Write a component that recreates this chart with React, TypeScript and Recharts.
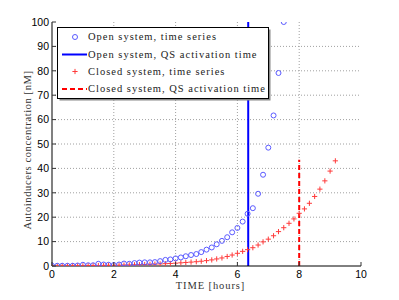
import React from 'react';
import {
  ComposedChart,
  Scatter,
  XAxis,
  YAxis,
  ReferenceLine,
  Label,
} from 'recharts';

// sample times [hours]
const timeHours = [
  0, 0.17, 0.33, 0.5, 0.67, 0.83, 1, 1.17, 1.33, 1.5, 1.67, 1.83, 2, 2.17, 2.33, 2.5,
  2.67, 2.83, 3, 3.17, 3.33, 3.5, 3.67, 3.83, 4, 4.17, 4.33, 4.5, 4.67, 4.83, 5, 5.17,
  5.33, 5.5, 5.67, 5.83, 6, 6.17, 6.33, 6.5, 6.67, 6.83, 7, 7.17, 7.33, 7.5, 7.67, 7.83,
  8, 8.17, 8.33, 8.5, 8.67, 8.83, 9, 9.17,
];

// open system autoinducer concentration [nM]
const openSeries = [
  0.1, 0.1, 0.1, 0.1, 0.1, 0.2, 0.5, 0.3, 0.3, 0.9, 0.6, 0.5, 0.4, 0.6, 1.0, 0.9,
  1.2, 1.4, 1.5, 1.5, 1.6, 2.0, 2.5, 2.7, 3.1, 3.5, 4.0, 4.5, 4.9, 5.7, 6.7, 7.6,
  8.9, 10.3, 11.8, 13.8, 15.6, 18.2, 21.4, 23.7, 29.6, 37.4, 48.5, 61.7, 79.1, 100,
];

// closed system autoinducer concentration [nM]
const closedSeries = [
  0.0, 0.0, 0.05, 0.05, 0.1, 0.1, 0.1, 0.15, 0.2, 0.2, 0.25, 0.3, 0.3, 0.35, 0.4, 0.45,
  0.5, 0.55, 0.6, 0.7, 0.75, 0.85, 0.95, 1.05, 1.15, 1.3, 1.45, 1.6, 1.75, 1.95, 2.2, 2.5,
  2.9, 3.3, 3.9, 4.5, 5.2, 6.0, 6.7, 7.5, 8.6, 9.9, 11.0, 12.4, 14.1, 15.7, 17.5, 19.3,
  21.6, 23.4, 25.7, 28.5, 31.5, 34.9, 38.9, 43.1,
];

const openActivationTime = 6.35;
const closedActivationTime = 8.0;
const closedActivationLevel = 43.5;

const xTicks = [0, 2, 4, 6, 8, 10];
const yTicks = [0, 10, 20, 30, 40, 50, 60, 70, 80, 90, 100];

const legendLabels = [
  'Open system, time series',
  'Open system, QS activation time',
  'Closed system, time series',
  'Closed system, QS activation time',
];

const xLabel = 'TIME [hours]';
const yLabel = 'Autoinducers concentration [nM]';

const openData = openSeries.map((v, i) => ({ t: timeHours[i], v }));
const closedData = closedSeries.map((v, i) => ({ t: timeHours[i], v }));

const BLUE_MARK = '#5a5aff';
const RED_MARK = '#ff3a3a';
const GRID = '#a0a0a0';
const TICK_FONT = '"Liberation Sans", Arial, sans-serif';
const SERIF = '"Liberation Serif", "Times New Roman", serif';

const BottomTick = (props: any) => {
  const { x, y, payload } = props;
  const axisY = y - 5;
  return (
    <g>
      <line x1={x} y1={axisY} x2={x} y2={axisY - 4} stroke="#333" strokeWidth={1} />
      <text x={x} y={y} dy="0.71em" textAnchor="middle" fontFamily={TICK_FONT} fontSize={10.5} fill="#000">
        {payload.value}
      </text>
    </g>
  );
};

const LeftTick = (props: any) => {
  const { x, y, payload } = props;
  const axisX = x + 3;
  return (
    <g>
      <line x1={axisX} y1={y} x2={axisX + 4} y2={y} stroke="#333" strokeWidth={1} />
      <text x={x} y={y} dy="0.36em" textAnchor="end" fontFamily={TICK_FONT} fontSize={10.5} fill="#000">
        {payload.value}
      </text>
    </g>
  );
};

const TopTick = (props: any) => {
  const { x, y } = props;
  return <line x1={x} y1={y} x2={x} y2={y + 4} stroke="#333" strokeWidth={1} />;
};

const RightTick = (props: any) => {
  const { x, y } = props;
  return <line x1={x} y1={y} x2={x - 4} y2={y} stroke="#333" strokeWidth={1} />;
};

const CircleShape = (props: any) => {
  const { cx, cy } = props;
  if (cx == null || cy == null) return null;
  return <circle cx={cx} cy={cy} r={2.5} fill="none" stroke={BLUE_MARK} strokeWidth={1} />;
};

const PlusShape = (props: any) => {
  const { cx, cy } = props;
  if (cx == null || cy == null) return null;
  const s = 2.6;
  return (
    <g stroke={RED_MARK} strokeWidth={1}>
      <line x1={cx - s} y1={cy} x2={cx + s} y2={cy} />
      <line x1={cx} y1={cy - s} x2={cx} y2={cy + s} />
    </g>
  );
};

const LegendGroup = () => {
  const w = 212;
  const h = 72;
  const rows = [10, 27.5, 44.5, 62];
  const mx = 18;
  return (
    <g transform="translate(57 27)">
      <rect x={2.5} y={2.5} width={w - 1} height={h - 1} fill="#888" />
      <rect x={0.5} y={0.5} width={w - 1} height={h - 1} fill="#fff" stroke="#000" strokeWidth={1} />
      <circle cx={mx} cy={rows[0]} r={2.5} fill="none" stroke={BLUE_MARK} strokeWidth={1} />
      <line x1={5} y1={rows[1]} x2={30} y2={rows[1]} stroke="#0000ff" strokeWidth={2} />
      <g stroke={RED_MARK} strokeWidth={1}>
        <line x1={mx - 2.6} y1={rows[2]} x2={mx + 2.6} y2={rows[2]} />
        <line x1={mx} y1={rows[2] - 2.6} x2={mx} y2={rows[2] + 2.6} />
      </g>
      <line x1={5} y1={rows[3]} x2={30} y2={rows[3]} stroke="#ff0000" strokeWidth={2} strokeDasharray="5 3" />
      {legendLabels.map((lbl, i) => (
        <text
          key={lbl}
          x={31}
          y={rows[i]}
          dy="0.33em"
          fontFamily={SERIF}
          fontSize={10.5}
          letterSpacing={1}
          fill="#222"
        >
          {lbl}
        </text>
      ))}
    </g>
  );
};

export default function App() {
  return (
    <div style={{ position: 'absolute', left: 0, top: 0, width: 399, height: 300, background: '#fff' }}>
      <ComposedChart width={399} height={300} margin={{ top: 22, right: 38, bottom: 0, left: 0 }}>
        <XAxis
          dataKey="t"
          type="number"
          domain={[0, 10]}
          ticks={xTicks}
          height={34}
          tickSize={0}
          tickMargin={5}
          tickLine={false}
          axisLine={{ stroke: '#000', strokeWidth: 1 }}
          tick={<BottomTick />}
          allowDataOverflow
        >
          <Label
            content={(p: any) => {
              const vb = p.viewBox;
              return (
                <text
                  x={vb.x + vb.width / 2 + 4}
                  y={vb.y + 19}
                  dy="0.36em"
                  textAnchor="middle"
                  fontFamily={SERIF}
                  fontSize={10.5}
                  letterSpacing={0.9}
                  fill="#333"
                >
                  {xLabel}
                </text>
              );
            }}
          />
        </XAxis>
        <XAxis
          xAxisId="top"
          orientation="top"
          type="number"
          domain={[0, 10]}
          ticks={xTicks}
          height={0}
          tickSize={0}
          tickMargin={0}
          tickLine={false}
          axisLine={{ stroke: '#222', strokeWidth: 1 }}
          tick={<TopTick />}
          allowDataOverflow
        />
        <YAxis
          dataKey="v"
          type="number"
          domain={[0, 100]}
          ticks={yTicks}
          width={52}
          tickSize={0}
          tickMargin={3}
          tickLine={false}
          axisLine={{ stroke: '#808080', strokeWidth: 2 }}
          tick={<LeftTick />}
          allowDataOverflow
        >
          <Label
            content={(p: any) => {
              const vb = p.viewBox;
              const cx = vb.x + 27;
              const cy = vb.y + vb.height / 2 + 6;
              return (
                <text
                  x={cx}
                  y={cy}
                  transform={`rotate(-90 ${cx} ${cy})`}
                  dy="0.36em"
                  textAnchor="middle"
                  fontFamily={SERIF}
                  fontSize={10.5}
                  letterSpacing={0.6}
                  fill="#333"
                >
                  {yLabel}
                </text>
              );
            }}
          />
        </YAxis>
        <YAxis
          yAxisId="r"
          orientation="right"
          type="number"
          domain={[0, 100]}
          ticks={yTicks}
          width={0}
          tickSize={0}
          tickMargin={0}
          tickLine={false}
          axisLine={{ stroke: '#222', strokeWidth: 1 }}
          tick={<RightTick />}
          allowDataOverflow
        />
        {yTicks.slice(1, -1).map((v) => (
          <ReferenceLine key={`gy${v}`} y={v} stroke={GRID} strokeWidth={1} strokeDasharray="1 2" />
        ))}
        {xTicks.slice(1, -1).map((v) => (
          <ReferenceLine key={`gx${v}`} x={v} stroke={GRID} strokeWidth={1} strokeDasharray="1 2" />
        ))}
        <Scatter
          name={legendLabels[2]}
          data={closedData}
          dataKey="v"
          shape={<PlusShape />}
          isAnimationActive={false}
        />
        <Scatter
          name={legendLabels[0]}
          data={openData}
          dataKey="v"
          shape={<CircleShape />}
          isAnimationActive={false}
        />
        <ReferenceLine x={openActivationTime} stroke="#0000ff" strokeWidth={2} />
        <ReferenceLine
          segment={[
            { x: closedActivationTime, y: 0 },
            { x: closedActivationTime, y: closedActivationLevel },
          ]}
          stroke="#ff0000"
          strokeWidth={2}
          strokeDasharray="5 3"
          label={() => <LegendGroup />}
        />
      </ComposedChart>
    </div>
  );
}
